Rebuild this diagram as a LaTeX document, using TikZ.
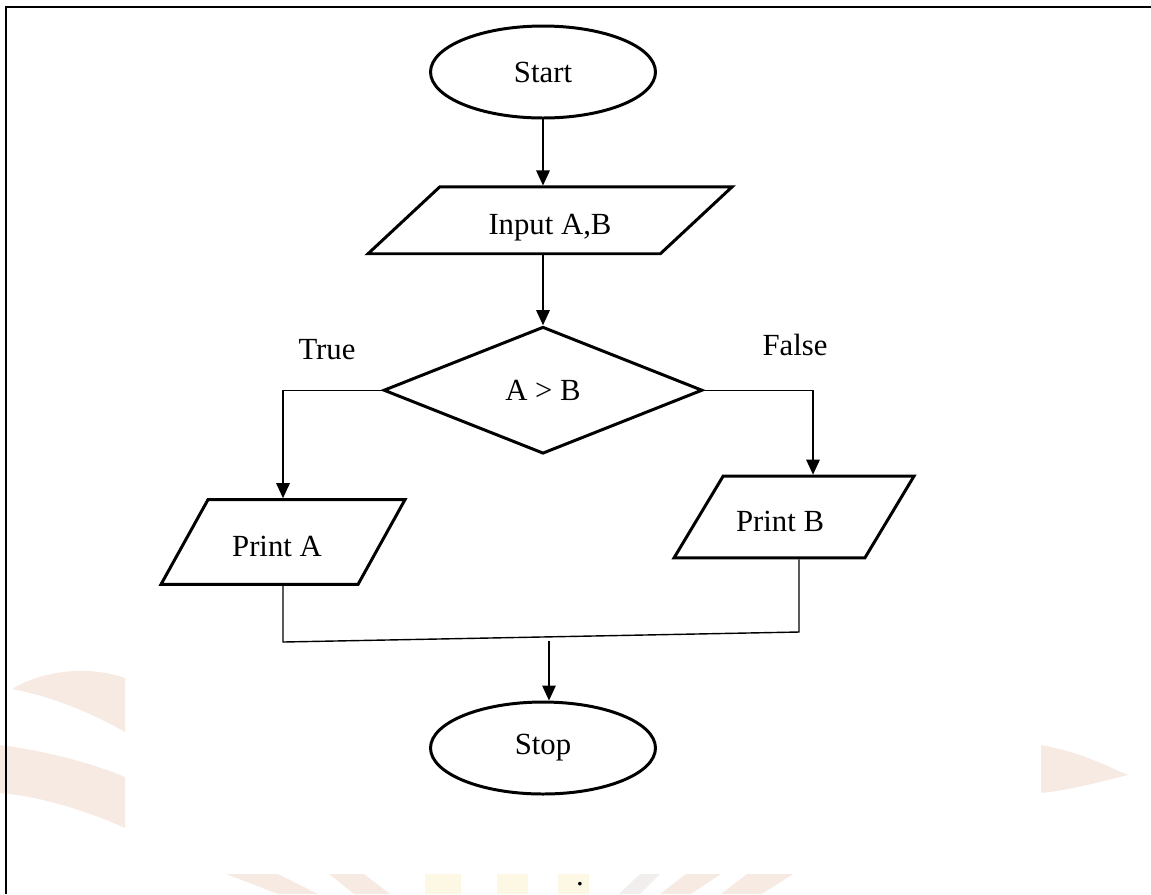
\documentclass[tikz,border=0pt]{standalone}
\usepackage{fontspec}
\setmainfont{Liberation Serif}
\usetikzlibrary{arrows.meta,positioning,calc,shapes.geometric}
\definecolor{WashTan}{HTML}{F6EAE2}
\definecolor{WashSand}{HTML}{FCF8E4}
\definecolor{WashGrey}{HTML}{F1EEED}

\begin{document}
\begin{tikzpicture}[x=0.02cm,y=-0.02cm,>={Triangle[length=0.3cm,width=0.27cm]},
  every node/.style={font=\fontsize{17.5}{21}\selectfont},
  terminal/.style={draw,ellipse,line width=1.7pt,minimum width=4.5cm,minimum height=1.84cm,inner sep=0pt},
  io/.style={draw,trapezium,trapezium stretches body=true,line width=1.7pt,inner xsep=0pt,text height=16pt,text depth=0pt},
  decision/.style={draw,diamond,line width=1.7pt,minimum width=6.38cm,minimum height=2.54cm,inner sep=0pt},
  flow/.style={line width=0.8pt}]
  \useasboundingbox (0,0) rectangle (1151,894);

  % faint watermark behind the chart
  \fill[WashTan] (12,689) .. controls (40,672) and (85,664) .. (125,678) -- (125,732) .. controls (90,712) and (50,696) .. cycle;
  \fill[WashTan] (0,745) .. controls (40,750) and (90,762) .. (125,777) -- (125,828) .. controls (90,812) and (40,796) .. (0,793) -- cycle;
  \fill[WashTan] (1041,745) .. controls (1080,752) and (1105,765) .. (1128,775) .. controls (1100,782) and (1070,790) .. (1041,793) -- cycle;
  \begin{scope}
    \clip (186,874) rectangle (869,894);
    \fill[WashTan] (226,874) -- (278,874) -- (318,894) -- (278,894) -- cycle;
    \fill[WashTan] (329,874) -- (364,874) -- (390,894) -- (354,894) -- cycle;
    \fill[WashSand] (425,874) rectangle (461,894);
    \fill[WashSand] (497,874) rectangle (528,894);
    \fill[WashSand] (558,874) rectangle (589,894);
    \fill[WashGrey] (640,874) -- (660,874) -- (640,894) -- (619,894) -- cycle;
    \fill[WashTan] (686,874) -- (721,874) -- (691,894) -- (660,894) -- cycle;
    \fill[WashTan] (747,874) -- (793,874) -- (762,894) -- (721,894) -- cycle;
  \end{scope}

  % page frame
  \draw[line width=1.2pt] (6,894) -- (6,7) -- (1151,7);

  \node[terminal] (start) at (543,72) {Start};
  \node[io,trapezium left angle=43,trapezium right angle=137,inner ysep=11pt,minimum width=7.28cm,below=1.32cm of start,xshift=0.14cm] (input) {Input A,B};
  \node[decision,below=1.4cm of input,xshift=-0.14cm] (dec) {A \textgreater{} B};
  \node[io,trapezium left angle=61,trapezium right angle=119,inner ysep=16.1pt,minimum width=4.88cm] (printa) at (283,542) {Print A\hspace*{0.24cm}};
  \node[io,trapezium left angle=59,trapezium right angle=121,inner ysep=15.25pt,minimum width=4.8cm] (printb) at (794,517) {Print B\hspace*{0.56cm}};
  \node[terminal] (stop) at (543,748) {Stop};

  \node (truelbl) at (327,350) {True};
  \node (falselbl) at (795,345) {False};
  \node (dot) at (580,884) {.};

  \coordinate (joinA) at (283,642);
  \coordinate (joinB) at (799,632);
  \coordinate (joinM) at (549,641);

  \draw[flow,->] (start.south) -- (start.south |- input.north);
  \draw[flow,->] (dec.north |- input.south) -- (dec.north);
  \draw[flow,->] (dec.west) -| (printa.north);
  \draw[flow,->] (dec.east) -| ([xshift=0.38cm]printb.north);
  \draw[flow] (printa.south) -- (joinA) -- (joinB) -- (joinB |- printb.south);
  \draw[flow,->] (joinM) -- (joinM |- stop.north);
\end{tikzpicture}
\end{document}
